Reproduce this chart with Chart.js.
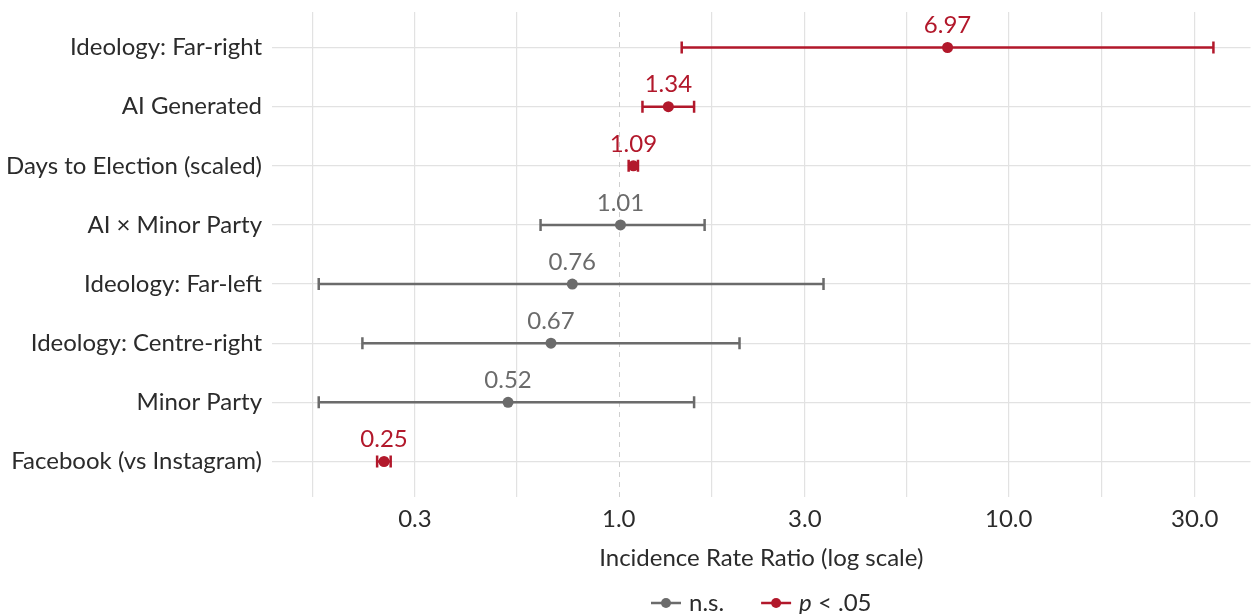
<!DOCTYPE html>
<html>
<head>
<meta charset="utf-8">
<script src="https://cdn.jsdelivr.net/npm/chart.js@4.4.1/dist/chart.umd.min.js"></script>
<style>
  html, body { margin: 0; padding: 0; background: #fff; }
</style>
</head>
<body>
<canvas id="myChart" width="1256" height="614"></canvas>
<script>
// model terms, top to bottom
const terms = ['Ideology: Far-right', 'AI Generated', 'Days to Election (scaled)', 'AI \u00d7 Minor Party', 'Ideology: Far-left', 'Ideology: Centre-right', 'Minor Party', 'Facebook (vs Instagram)'];
const irr = [6.97, 1.34, 1.09, 1.01, 0.76, 0.67, 0.52, 0.25];
const ciLow = [1.45, 1.15, 1.06, 0.63, 0.17, 0.22, 0.17, 0.24];
const ciHigh = [33.5, 1.56, 1.12, 1.66, 3.35, 2.04, 1.56, 0.26];
const significant = [true, true, true, false, false, false, false, true];
const majorTicks = [0.3, 1, 3, 10, 30];
const minorTicks = [0.164, 0.548, 1.73, 5.48, 17.3];

const RED = '#B2182B';
const GREY = '#6b6b6b';
const FONT = 'Lato';
const FS = 24;
const colourOf = i => significant[i] ? RED : GREY;

const refLine = {
	id: 'refLine',
	beforeDatasetsDraw(chart) {
		const { ctx, chartArea, scales: { x } } = chart;
		const px = Math.round(x.getPixelForValue(1)) + 0.5;
		ctx.save();
		ctx.strokeStyle = '#cfcfcf';
		ctx.lineWidth = 1;
		ctx.setLineDash([5, 5]);
		ctx.beginPath();
		ctx.moveTo(px, chartArea.top);
		ctx.lineTo(px, chartArea.bottom);
		ctx.stroke();
		ctx.restore();
	}
};

const whiskers = {
	id: 'whiskers',
	beforeDatasetsDraw(chart) {
		const { ctx, scales: { x, y } } = chart;
		ctx.save();
		ctx.lineWidth = 2.5;
		terms.forEach((t, i) => {
			const py = y.getPixelForValue(i);
			const x0 = x.getPixelForValue(ciLow[i]);
			const x1 = x.getPixelForValue(ciHigh[i]);
			ctx.strokeStyle = colourOf(i);
			ctx.beginPath();
			ctx.moveTo(x0, py);
			ctx.lineTo(x1, py);
			ctx.moveTo(x0, py - 6);
			ctx.lineTo(x0, py + 6);
			ctx.moveTo(x1, py - 6);
			ctx.lineTo(x1, py + 6);
			ctx.stroke();
		});
		ctx.restore();
	}
};

const valueLabels = {
	id: 'valueLabels',
	afterDatasetsDraw(chart) {
		const { ctx, scales: { x, y } } = chart;
		ctx.save();
		ctx.font = FS + 'px ' + FONT;
		ctx.textAlign = 'center';
		ctx.textBaseline = 'middle';
		terms.forEach((t, i) => {
			ctx.fillStyle = colourOf(i);
			ctx.fillText(irr[i].toFixed(2), x.getPixelForValue(irr[i]), y.getPixelForValue(i) - 22);
		});
		ctx.restore();
	}
};

// bottom legend: line-dot keys, "p" in italics
const keyLegend = {
	id: 'keyLegend',
	afterDraw(chart) {
		const { ctx, chartArea } = chart;
		const cy = 603;
		const keyW = 30, gapKey = 8, gapItem = 37;
		ctx.save();
		ctx.textBaseline = 'middle';
		ctx.font = FS + 'px ' + FONT;
		const nsW = ctx.measureText('n.s.').width;
		const restW = ctx.measureText(' < .05').width;
		ctx.font = 'italic ' + FS + 'px ' + FONT;
		const pW = ctx.measureText('p').width;
		const total = keyW + gapKey + nsW + gapItem + keyW + gapKey + pW + restW;
		let cx = (chartArea.left + chartArea.right) / 2 - total / 2;
		const drawKey = (col) => {
			ctx.strokeStyle = col;
			ctx.fillStyle = col;
			ctx.lineWidth = 2.5;
			ctx.beginPath();
			ctx.moveTo(cx, cy);
			ctx.lineTo(cx + keyW, cy);
			ctx.stroke();
			ctx.beginPath();
			ctx.arc(cx + keyW / 2, cy, 5, 0, Math.PI * 2);
			ctx.fill();
			cx += keyW + gapKey;
		};
		drawKey(GREY);
		ctx.fillStyle = '#2b2b2b';
		ctx.font = FS + 'px ' + FONT;
		ctx.fillText('n.s.', cx, cy);
		cx += nsW + gapItem;
		drawKey(RED);
		ctx.fillStyle = '#2b2b2b';
		ctx.font = 'italic ' + FS + 'px ' + FONT;
		ctx.fillText('p', cx, cy);
		cx += pW;
		ctx.font = FS + 'px ' + FONT;
		ctx.fillText(' < .05', cx, cy);
		ctx.restore();
	}
};

const ctx = document.getElementById('myChart').getContext('2d');
let myChart = new Chart(ctx, {
	type: 'scatter',
	data: {
		datasets: [
			{
				label: 'IRR',
				data: irr.map((v, i) => ({ x: v, y: i })),
				pointBackgroundColor: terms.map((t, i) => colourOf(i)),
				pointBorderWidth: 0,
				pointRadius: 5.5
			}
		]
	},
	options: {
		responsive: false,
		animation: false,
		events: [],
		devicePixelRatio: 1,
		layout: { padding: { top: 12, bottom: 40, left: 0, right: 0 } },
		plugins: { legend: { display: false }, tooltip: { enabled: false } },
		scales: {
			x: {
				type: 'logarithmic',
				min: 0.129,
				max: 41.7,
				bounds: 'data',
				afterBuildTicks: scale => {
					scale.ticks = minorTicks.concat(majorTicks).sort((a, b) => a - b).map(v => ({ value: v }));
				},
				afterFit: scale => {
					scale.height = 77;
					scale.paddingLeft = 0;
					scale.paddingRight = 0;
				},
				ticks: {
					autoSkip: false,
					maxRotation: 0,
					padding: 8,
					color: '#2b2b2b',
					font: { family: FONT, size: FS },
					callback: v => majorTicks.includes(v) ? v.toFixed(1) : ''
				},
				grid: {
					drawTicks: false,
					lineWidth: 1.2,
					color: c => (c.tick && c.tick.value === 1) ? 'rgba(0,0,0,0)' : '#e2e2e2'
				},
				border: { display: false },
				title: {
					display: true,
					text: 'Incidence Rate Ratio (log scale)',
					color: '#2b2b2b',
					font: { family: FONT, size: FS },
					padding: { top: 0, bottom: 1 }
				}
			},
			y: {
				type: 'linear',
				min: -0.6,
				max: 7.6,
				reverse: true,
				bounds: 'data',
				afterBuildTicks: scale => {
					scale.ticks = terms.map((t, i) => ({ value: i }));
				},
				afterFit: scale => {
					scale.width = 272;
					scale.paddingTop = 0;
					scale.paddingBottom = 0;
				},
				ticks: {
					autoSkip: false,
					padding: 10,
					color: '#2b2b2b',
					font: { family: FONT, size: FS },
					callback: v => terms[v]
				},
				grid: { drawTicks: false, lineWidth: 1.2, color: '#e2e2e2' },
				border: { display: false }
			}
		}
	},
	plugins: [refLine, whiskers, valueLabels, keyLegend]
});
</script>
</body>
</html>
